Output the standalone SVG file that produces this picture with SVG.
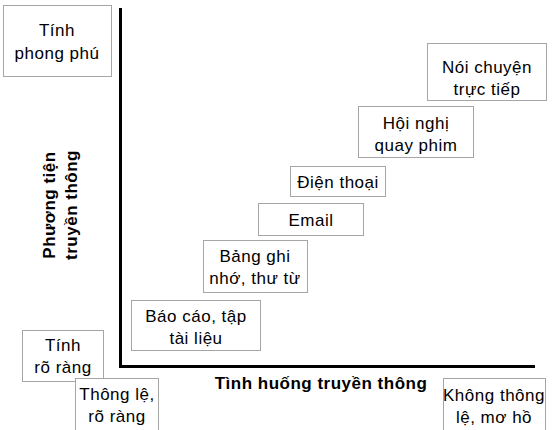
<svg xmlns="http://www.w3.org/2000/svg" width="554" height="430" viewBox="0 0 554 430">
  <style>
    .box { fill: #ffffff; stroke: #a6a6a6; stroke-width: 1; }
    .t { font-family: "Liberation Sans", Arial, Helvetica, sans-serif; font-size: 17px; letter-spacing: 0.5px; fill: #000; text-anchor: middle; }
    .b { font-family: "Liberation Sans", Arial, Helvetica, sans-serif; font-size: 17px; letter-spacing: 0.5px; font-weight: bold; fill: #000; text-anchor: middle; }
    .axis { stroke: #000; stroke-width: 3; fill: none; }
  </style>
  <rect width="554" height="430" fill="#ffffff"/>

  <!-- axes -->
  <g id="connectors">
    <path class="axis" d="M120.5,8 V366.5 H535"/>
  </g>

  <!-- axis captions -->
  <g id="x-label">
    <text class="b" x="321" y="389">Tình huống truyền thông</text>
  </g>
  <g id="y-label">
    <text class="b" transform="translate(55,205) rotate(-90)" x="0" y="0">Phương tiện</text>
    <text class="b" transform="translate(77,205) rotate(-90)" x="0" y="0">truyền thông</text>
  </g>

  <!-- scale ends -->
  <g id="rich">
    <rect class="box" x="3.5" y="5.5" width="108" height="71"/>
    <text class="t" x="57" y="36">Tính</text>
    <text class="t" x="57" y="59">phong phú</text>
  </g>
  <g id="clear">
    <rect class="box" x="22.5" y="330.5" width="81" height="51"/>
    <text class="t" x="63" y="351">Tính</text>
    <text class="t" x="63" y="373">rõ ràng</text>
  </g>
  <g id="routine">
    <rect class="box" x="75.5" y="378.5" width="83" height="56"/>
    <text class="t" x="117" y="400">Thông lệ,</text>
    <text class="t" x="117" y="422">rõ ràng</text>
  </g>
  <g id="nonroutine">
    <rect class="box" x="443.5" y="378.5" width="102" height="56"/>
    <text class="t" x="494" y="401">Không thông</text>
    <text class="t" x="494" y="423">lệ, mơ hồ</text>
  </g>

  <!-- media steps -->
  <g id="face-to-face">
    <rect class="box" x="427.5" y="43.5" width="119" height="57"/>
    <text class="t" x="487" y="73">Nói chuyện</text>
    <text class="t" x="487" y="95">trực tiếp</text>
  </g>
  <g id="video-conference">
    <rect class="box" x="358.5" y="106.5" width="115" height="51"/>
    <text class="t" x="416" y="129">Hội nghị</text>
    <text class="t" x="416" y="151">quay phim</text>
  </g>
  <g id="telephone">
    <rect class="box" x="290.5" y="166.5" width="95" height="30"/>
    <text class="t" x="338" y="188">Điện thoại</text>
  </g>
  <g id="email">
    <rect class="box" x="258.5" y="203.5" width="105" height="32"/>
    <text class="t" x="311" y="226">Email</text>
  </g>
  <g id="memos">
    <rect class="box" x="203.5" y="240.5" width="104" height="52"/>
    <text class="t" x="255" y="262">Bảng ghi</text>
    <text class="t" x="255" y="284">nhớ, thư từ</text>
  </g>
  <g id="reports">
    <rect class="box" x="131.5" y="300.5" width="129" height="50"/>
    <text class="t" x="196" y="322">Báo cáo, tập</text>
    <text class="t" x="196" y="344">tài liệu</text>
  </g>
</svg>
